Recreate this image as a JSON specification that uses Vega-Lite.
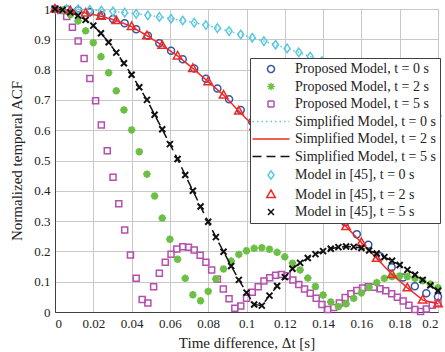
{
"$schema": "https://vega.github.io/schema/vega-lite/v6.json",
"width": 383, "height": 303,
"autosize": {"type": "none"},
"padding": {"left": 55, "top": 9, "right": 7, "bottom": 40},
"background": "white",
"config": {
 "view": {"stroke": "#404040", "strokeWidth": 1},
 "axis": {"labelFont": "Liberation Serif", "labelFontSize": 13, "labelColor": "#222222", "titleFont": "Liberation Serif", "titleFontSize": 15, "titleFontWeight": "normal", "titleColor": "#222222", "gridColor": "#c8c8c8", "gridOpacity": 1, "domainColor": "#404040", "ticks": false, "labelPadding": 5},
 "legend": {"fillColor": "white", "strokeColor": "#404040", "padding": 4, "labelFont": "Liberation Serif", "labelFontSize": 14, "labelColor": "#222222", "symbolSize": 100, "symbolStrokeWidth": 1.5, "rowPadding": 3.5, "symbolOffset": 10, "labelOffset": 17, "symbolFillColor": "transparent"}
},
"datasets": {
 "pts": [
{"s":"P0","x":0,"y":1},{"s":"P0","x":0.0061,"y":0.999},{"s":"P0","x":0.0121,"y":0.996},{"s":"P0","x":0.0182,"y":0.99},{"s":"P0","x":0.0242,"y":0.979},{"s":"P0","x":0.0303,"y":0.967},{"s":"P0","x":0.0364,"y":0.953},{"s":"P0","x":0.0424,"y":0.933},{"s":"P0","x":0.0485,"y":0.912},{"s":"P0","x":0.0545,"y":0.887},{"s":"P0","x":0.0606,"y":0.862},{"s":"P0","x":0.0667,"y":0.834},{"s":"P0","x":0.0727,"y":0.804},{"s":"P0","x":0.0788,"y":0.77},{"s":"P0","x":0.0848,"y":0.738},{"s":"P0","x":0.0909,"y":0.702},{"s":"P0","x":0.097,"y":0.667},{"s":"P0","x":0.103,"y":0.628},{"s":"P0","x":0.1091,"y":0.586},{"s":"P0","x":0.1152,"y":0.545},{"s":"P0","x":0.1212,"y":0.503},{"s":"P0","x":0.1273,"y":0.462},{"s":"P0","x":0.1333,"y":0.42},{"s":"P0","x":0.1394,"y":0.379},{"s":"P0","x":0.1455,"y":0.337},{"s":"P0","x":0.1515,"y":0.296},{"s":"P0","x":0.1576,"y":0.257},{"s":"P0","x":0.1636,"y":0.222},{"s":"P0","x":0.1697,"y":0.184},{"s":"P0","x":0.1758,"y":0.148},{"s":"P0","x":0.1818,"y":0.114},{"s":"P0","x":0.1879,"y":0.085},{"s":"P0","x":0.1939,"y":0.062},{"s":"P0","x":0.2,"y":0.05},
{"s":"P2","x":0,"y":1},{"s":"P2","x":0.004,"y":0.996},{"s":"P2","x":0.008,"y":0.982},{"s":"P2","x":0.012,"y":0.96},{"s":"P2","x":0.016,"y":0.928},{"s":"P2","x":0.02,"y":0.889},{"s":"P2","x":0.024,"y":0.843},{"s":"P2","x":0.028,"y":0.79},{"s":"P2","x":0.032,"y":0.73},{"s":"P2","x":0.036,"y":0.667},{"s":"P2","x":0.04,"y":0.601},{"s":"P2","x":0.044,"y":0.529},{"s":"P2","x":0.048,"y":0.455},{"s":"P2","x":0.052,"y":0.383},{"s":"P2","x":0.056,"y":0.31},{"s":"P2","x":0.06,"y":0.24},{"s":"P2","x":0.064,"y":0.174},{"s":"P2","x":0.068,"y":0.111},{"s":"P2","x":0.072,"y":0.057},{"s":"P2","x":0.076,"y":0.037},{"s":"P2","x":0.08,"y":0.068},{"s":"P2","x":0.084,"y":0.109},{"s":"P2","x":0.088,"y":0.142},{"s":"P2","x":0.092,"y":0.168},{"s":"P2","x":0.096,"y":0.19},{"s":"P2","x":0.1,"y":0.202},{"s":"P2","x":0.104,"y":0.21},{"s":"P2","x":0.108,"y":0.212},{"s":"P2","x":0.112,"y":0.207},{"s":"P2","x":0.116,"y":0.197},{"s":"P2","x":0.12,"y":0.182},{"s":"P2","x":0.124,"y":0.161},{"s":"P2","x":0.128,"y":0.139},{"s":"P2","x":0.132,"y":0.112},{"s":"P2","x":0.136,"y":0.084},{"s":"P2","x":0.14,"y":0.056},{"s":"P2","x":0.144,"y":0.033},{"s":"P2","x":0.148,"y":0.018},{"s":"P2","x":0.152,"y":0.027},{"s":"P2","x":0.156,"y":0.045},{"s":"P2","x":0.16,"y":0.063},{"s":"P2","x":0.164,"y":0.081},{"s":"P2","x":0.168,"y":0.097},{"s":"P2","x":0.172,"y":0.111},{"s":"P2","x":0.176,"y":0.117},{"s":"P2","x":0.18,"y":0.119},{"s":"P2","x":0.184,"y":0.117},{"s":"P2","x":0.188,"y":0.111},{"s":"P2","x":0.192,"y":0.103},{"s":"P2","x":0.196,"y":0.092},{"s":"P2","x":0.2,"y":0.08},
{"s":"P5","x":0,"y":1},{"s":"P5","x":0.003,"y":0.995},{"s":"P5","x":0.0061,"y":0.975},{"s":"P5","x":0.0091,"y":0.94},{"s":"P5","x":0.0121,"y":0.894},{"s":"P5","x":0.0152,"y":0.837},{"s":"P5","x":0.0182,"y":0.771},{"s":"P5","x":0.0212,"y":0.697},{"s":"P5","x":0.0242,"y":0.617},{"s":"P5","x":0.0273,"y":0.532},{"s":"P5","x":0.0303,"y":0.445},{"s":"P5","x":0.0333,"y":0.357},{"s":"P5","x":0.0364,"y":0.271},{"s":"P5","x":0.0394,"y":0.188},{"s":"P5","x":0.0424,"y":0.111},{"s":"P5","x":0.0455,"y":0.041},{"s":"P5","x":0.0485,"y":0.03},{"s":"P5","x":0.0515,"y":0.083},{"s":"P5","x":0.0545,"y":0.128},{"s":"P5","x":0.0576,"y":0.164},{"s":"P5","x":0.0606,"y":0.191},{"s":"P5","x":0.0636,"y":0.208},{"s":"P5","x":0.0667,"y":0.215},{"s":"P5","x":0.0697,"y":0.214},{"s":"P5","x":0.0727,"y":0.205},{"s":"P5","x":0.0758,"y":0.187},{"s":"P5","x":0.0788,"y":0.164},{"s":"P5","x":0.0818,"y":0.139},{"s":"P5","x":0.0848,"y":0.108},{"s":"P5","x":0.0879,"y":0.076},{"s":"P5","x":0.0909,"y":0.044},{"s":"P5","x":0.0939,"y":0.012},{"s":"P5","x":0.097,"y":0.02},{"s":"P5","x":0.1,"y":0.045},{"s":"P5","x":0.103,"y":0.065},{"s":"P5","x":0.1061,"y":0.083},{"s":"P5","x":0.1091,"y":0.102},{"s":"P5","x":0.1121,"y":0.113},{"s":"P5","x":0.1152,"y":0.121},{"s":"P5","x":0.1182,"y":0.124},{"s":"P5","x":0.1212,"y":0.12},{"s":"P5","x":0.1242,"y":0.106},{"s":"P5","x":0.1273,"y":0.091},{"s":"P5","x":0.1303,"y":0.076},{"s":"P5","x":0.1333,"y":0.062},{"s":"P5","x":0.1364,"y":0.045},{"s":"P5","x":0.1394,"y":0.025},{"s":"P5","x":0.1424,"y":0.008},{"s":"P5","x":0.1455,"y":0.015},{"s":"P5","x":0.1485,"y":0.03},{"s":"P5","x":0.1515,"y":0.048},{"s":"P5","x":0.1545,"y":0.06},{"s":"P5","x":0.1576,"y":0.071},{"s":"P5","x":0.1606,"y":0.079},{"s":"P5","x":0.1636,"y":0.083},{"s":"P5","x":0.1667,"y":0.082},{"s":"P5","x":0.1697,"y":0.077},{"s":"P5","x":0.1727,"y":0.07},{"s":"P5","x":0.1758,"y":0.06},{"s":"P5","x":0.1788,"y":0.049},{"s":"P5","x":0.1818,"y":0.036},{"s":"P5","x":0.1848,"y":0.022},{"s":"P5","x":0.1879,"y":0.008},{"s":"P5","x":0.1909,"y":0.002},{"s":"P5","x":0.1939,"y":0.01},{"s":"P5","x":0.197,"y":0.022},{"s":"P5","x":0.2,"y":0.03},
{"s":"M0","x":0,"y":1},{"s":"M0","x":0.0061,"y":1},{"s":"M0","x":0.0121,"y":0.999},{"s":"M0","x":0.0182,"y":0.997},{"s":"M0","x":0.0242,"y":0.995},{"s":"M0","x":0.0303,"y":0.992},{"s":"M0","x":0.0364,"y":0.988},{"s":"M0","x":0.0424,"y":0.984},{"s":"M0","x":0.0485,"y":0.979},{"s":"M0","x":0.0545,"y":0.974},{"s":"M0","x":0.0606,"y":0.968},{"s":"M0","x":0.0667,"y":0.962},{"s":"M0","x":0.0727,"y":0.955},{"s":"M0","x":0.0788,"y":0.947},{"s":"M0","x":0.0848,"y":0.937},{"s":"M0","x":0.0909,"y":0.927},{"s":"M0","x":0.097,"y":0.916},{"s":"M0","x":0.103,"y":0.905},{"s":"M0","x":0.1091,"y":0.894},{"s":"M0","x":0.1152,"y":0.882},{"s":"M0","x":0.1212,"y":0.87},{"s":"M0","x":0.1273,"y":0.857},{"s":"M0","x":0.1333,"y":0.843},{"s":"M0","x":0.1394,"y":0.828},{"s":"M0","x":0.1455,"y":0.813},{"s":"M0","x":0.1515,"y":0.797},{"s":"M0","x":0.1576,"y":0.78},{"s":"M0","x":0.1636,"y":0.762},{"s":"M0","x":0.1697,"y":0.744},{"s":"M0","x":0.1758,"y":0.725},{"s":"M0","x":0.1818,"y":0.706},{"s":"M0","x":0.1879,"y":0.687},{"s":"M0","x":0.1939,"y":0.667},{"s":"M0","x":0.2,"y":0.648},
{"s":"M2","x":0,"y":1},{"s":"M2","x":0.008,"y":0.995},{"s":"M2","x":0.016,"y":0.987},{"s":"M2","x":0.024,"y":0.976},{"s":"M2","x":0.032,"y":0.962},{"s":"M2","x":0.04,"y":0.942},{"s":"M2","x":0.048,"y":0.912},{"s":"M2","x":0.056,"y":0.88},{"s":"M2","x":0.064,"y":0.845},{"s":"M2","x":0.072,"y":0.804},{"s":"M2","x":0.08,"y":0.76},{"s":"M2","x":0.088,"y":0.716},{"s":"M2","x":0.096,"y":0.663},{"s":"M2","x":0.104,"y":0.612},{"s":"M2","x":0.112,"y":0.557},{"s":"M2","x":0.12,"y":0.502},{"s":"M2","x":0.128,"y":0.446},{"s":"M2","x":0.136,"y":0.39},{"s":"M2","x":0.144,"y":0.335},{"s":"M2","x":0.152,"y":0.282},{"s":"M2","x":0.16,"y":0.229},{"s":"M2","x":0.168,"y":0.177},{"s":"M2","x":0.176,"y":0.124},{"s":"M2","x":0.184,"y":0.08},{"s":"M2","x":0.192,"y":0.04},{"s":"M2","x":0.2,"y":0.027},
{"s":"M5","x":0,"y":1},{"s":"M5","x":0.004,"y":0.997},{"s":"M5","x":0.008,"y":0.989},{"s":"M5","x":0.012,"y":0.978},{"s":"M5","x":0.016,"y":0.964},{"s":"M5","x":0.02,"y":0.945},{"s":"M5","x":0.024,"y":0.92},{"s":"M5","x":0.028,"y":0.89},{"s":"M5","x":0.032,"y":0.856},{"s":"M5","x":0.036,"y":0.821},{"s":"M5","x":0.04,"y":0.783},{"s":"M5","x":0.044,"y":0.742},{"s":"M5","x":0.048,"y":0.7},{"s":"M5","x":0.052,"y":0.651},{"s":"M5","x":0.056,"y":0.603},{"s":"M5","x":0.06,"y":0.554},{"s":"M5","x":0.064,"y":0.505},{"s":"M5","x":0.068,"y":0.452},{"s":"M5","x":0.072,"y":0.4},{"s":"M5","x":0.076,"y":0.348},{"s":"M5","x":0.08,"y":0.298},{"s":"M5","x":0.084,"y":0.247},{"s":"M5","x":0.088,"y":0.199},{"s":"M5","x":0.092,"y":0.152},{"s":"M5","x":0.096,"y":0.106},{"s":"M5","x":0.1,"y":0.064},{"s":"M5","x":0.104,"y":0.025},{"s":"M5","x":0.108,"y":0.021},{"s":"M5","x":0.112,"y":0.054},{"s":"M5","x":0.116,"y":0.086},{"s":"M5","x":0.12,"y":0.115},{"s":"M5","x":0.124,"y":0.143},{"s":"M5","x":0.128,"y":0.162},{"s":"M5","x":0.132,"y":0.178},{"s":"M5","x":0.136,"y":0.191},{"s":"M5","x":0.14,"y":0.201},{"s":"M5","x":0.144,"y":0.209},{"s":"M5","x":0.148,"y":0.214},{"s":"M5","x":0.152,"y":0.216},{"s":"M5","x":0.156,"y":0.215},{"s":"M5","x":0.16,"y":0.211},{"s":"M5","x":0.164,"y":0.203},{"s":"M5","x":0.168,"y":0.193},{"s":"M5","x":0.172,"y":0.181},{"s":"M5","x":0.176,"y":0.169},{"s":"M5","x":0.18,"y":0.155},{"s":"M5","x":0.184,"y":0.139},{"s":"M5","x":0.188,"y":0.123},{"s":"M5","x":0.192,"y":0.106},{"s":"M5","x":0.196,"y":0.088},{"s":"M5","x":0.2,"y":0.07}
 ],
 "lns": [
{"s":"S0","x":0,"y":1},{"s":"S0","x":0.0061,"y":1},{"s":"S0","x":0.0121,"y":0.999},{"s":"S0","x":0.0182,"y":0.997},{"s":"S0","x":0.0242,"y":0.995},{"s":"S0","x":0.0303,"y":0.992},{"s":"S0","x":0.0364,"y":0.988},{"s":"S0","x":0.0424,"y":0.984},{"s":"S0","x":0.0485,"y":0.979},{"s":"S0","x":0.0545,"y":0.974},{"s":"S0","x":0.0606,"y":0.968},{"s":"S0","x":0.0667,"y":0.962},{"s":"S0","x":0.0727,"y":0.955},{"s":"S0","x":0.0788,"y":0.947},{"s":"S0","x":0.0848,"y":0.937},{"s":"S0","x":0.0909,"y":0.927},{"s":"S0","x":0.097,"y":0.916},{"s":"S0","x":0.103,"y":0.905},{"s":"S0","x":0.1091,"y":0.894},{"s":"S0","x":0.1152,"y":0.882},{"s":"S0","x":0.1212,"y":0.87},{"s":"S0","x":0.1273,"y":0.857},{"s":"S0","x":0.1333,"y":0.843},{"s":"S0","x":0.1394,"y":0.828},{"s":"S0","x":0.1455,"y":0.813},{"s":"S0","x":0.1515,"y":0.797},{"s":"S0","x":0.1576,"y":0.78},{"s":"S0","x":0.1636,"y":0.762},{"s":"S0","x":0.1697,"y":0.744},{"s":"S0","x":0.1758,"y":0.725},{"s":"S0","x":0.1818,"y":0.706},{"s":"S0","x":0.1879,"y":0.687},{"s":"S0","x":0.1939,"y":0.667},{"s":"S0","x":0.2,"y":0.648},
{"s":"S2","x":0,"y":1},{"s":"S2","x":0.008,"y":0.995},{"s":"S2","x":0.016,"y":0.987},{"s":"S2","x":0.024,"y":0.976},{"s":"S2","x":0.032,"y":0.962},{"s":"S2","x":0.04,"y":0.942},{"s":"S2","x":0.048,"y":0.912},{"s":"S2","x":0.056,"y":0.88},{"s":"S2","x":0.064,"y":0.845},{"s":"S2","x":0.072,"y":0.804},{"s":"S2","x":0.08,"y":0.76},{"s":"S2","x":0.088,"y":0.716},{"s":"S2","x":0.096,"y":0.663},{"s":"S2","x":0.104,"y":0.612},{"s":"S2","x":0.112,"y":0.557},{"s":"S2","x":0.12,"y":0.502},{"s":"S2","x":0.128,"y":0.446},{"s":"S2","x":0.136,"y":0.39},{"s":"S2","x":0.144,"y":0.335},{"s":"S2","x":0.152,"y":0.282},{"s":"S2","x":0.16,"y":0.229},{"s":"S2","x":0.168,"y":0.177},{"s":"S2","x":0.176,"y":0.124},{"s":"S2","x":0.184,"y":0.08},{"s":"S2","x":0.192,"y":0.04},{"s":"S2","x":0.2,"y":0.027},
{"s":"S5","x":0,"y":1},{"s":"S5","x":0.004,"y":0.997},{"s":"S5","x":0.008,"y":0.989},{"s":"S5","x":0.012,"y":0.978},{"s":"S5","x":0.016,"y":0.964},{"s":"S5","x":0.02,"y":0.945},{"s":"S5","x":0.024,"y":0.92},{"s":"S5","x":0.028,"y":0.89},{"s":"S5","x":0.032,"y":0.856},{"s":"S5","x":0.036,"y":0.821},{"s":"S5","x":0.04,"y":0.783},{"s":"S5","x":0.044,"y":0.742},{"s":"S5","x":0.048,"y":0.7},{"s":"S5","x":0.052,"y":0.651},{"s":"S5","x":0.056,"y":0.603},{"s":"S5","x":0.06,"y":0.554},{"s":"S5","x":0.064,"y":0.505},{"s":"S5","x":0.068,"y":0.452},{"s":"S5","x":0.072,"y":0.4},{"s":"S5","x":0.076,"y":0.348},{"s":"S5","x":0.08,"y":0.298},{"s":"S5","x":0.084,"y":0.247},{"s":"S5","x":0.088,"y":0.199},{"s":"S5","x":0.092,"y":0.152},{"s":"S5","x":0.096,"y":0.106},{"s":"S5","x":0.1,"y":0.064},{"s":"S5","x":0.104,"y":0.025},{"s":"S5","x":0.108,"y":0.021},{"s":"S5","x":0.112,"y":0.054},{"s":"S5","x":0.116,"y":0.086},{"s":"S5","x":0.12,"y":0.115},{"s":"S5","x":0.124,"y":0.143},{"s":"S5","x":0.128,"y":0.162},{"s":"S5","x":0.132,"y":0.178},{"s":"S5","x":0.136,"y":0.191},{"s":"S5","x":0.14,"y":0.201},{"s":"S5","x":0.144,"y":0.209},{"s":"S5","x":0.148,"y":0.214},{"s":"S5","x":0.152,"y":0.216},{"s":"S5","x":0.156,"y":0.215},{"s":"S5","x":0.16,"y":0.211},{"s":"S5","x":0.164,"y":0.203},{"s":"S5","x":0.168,"y":0.193},{"s":"S5","x":0.172,"y":0.181},{"s":"S5","x":0.176,"y":0.169},{"s":"S5","x":0.18,"y":0.155},{"s":"S5","x":0.184,"y":0.139},{"s":"S5","x":0.188,"y":0.123},{"s":"S5","x":0.192,"y":0.106},{"s":"S5","x":0.196,"y":0.088},{"s":"S5","x":0.2,"y":0.07}
 ]
},
"encoding": {
 "x": {"field": "x", "type": "quantitative", "scale": {"domain": [0, 0.2], "nice": false, "zero": false},
   "axis": {"values": [0,0.02,0.04,0.06,0.08,0.1,0.12,0.14,0.16,0.18,0.2], "format": "~g", "title": "Time difference, Δt [s]", "titlePadding": 5}},
 "y": {"field": "y", "type": "quantitative", "scale": {"domain": [0, 1], "nice": false},
   "axis": {"values": [0,0.1,0.2,0.3,0.4,0.5,0.6,0.7,0.8,0.9,1], "format": "~g", "title": "Normalized temporal ACF", "titlePadding": 9}},
 "color": {"field": "s", "type": "nominal",
   "scale": {"domain": ["P0","P2","P5","S0","S2","S5","M0","M2","M5"], "range": ["#3653a3","#6cbf45","#b44fae","#5cc8de","#ee2a24","#111111","#5cc8de","#ee2a24","#111111"]},
   "legend": {"title": null, "orient": "none", "legendX": 195, "legendY": 49, "labelExpr": "datum.label=='P0'?'Proposed Model, t = 0 s':datum.label=='P2'?'Proposed Model, t = 2 s':datum.label=='P5'?'Proposed Model, t = 5 s':datum.label=='S0'?'Simplified Model, t = 0 s':datum.label=='S2'?'Simplified Model, t = 2 s':datum.label=='S5'?'Simplified Model, t = 5 s':datum.label=='M0'?'Model in [45], t = 0 s':datum.label=='M2'?'Model in [45], t = 2 s':'Model in [45], t = 5 s'"}}
},
"layer": [
 {"data": {"name": "pts"}, "transform": [{"filter": {"field": "s", "oneOf": ["P0","P5"]}}],
  "mark": {"type": "point", "filled": false, "size": 100, "strokeWidth": 1.5, "opacity": 1},
  "encoding": {"shape": {"field": "s", "type": "nominal", "scale": {"domain": ["P0","P2","P5","S0","S2","S5","M0","M2","M5"], "range": ["M0.7,0A0.7,0.7,0,1,1,-0.7,0A0.7,0.7,0,1,1,0.7,0Z","M0,-0.75L0,0.75M-0.75,0L0.75,0M-0.53,-0.53L0.53,0.53M-0.53,0.53L0.53,-0.53","M-0.6,-0.6L0.6,-0.6L0.6,0.6L-0.6,0.6Z","M-3.7,0L3.7,0","M-3.7,0L3.7,0","M-3.7,0L3.7,0","M0,-0.85L0.6,0L0,0.85L-0.6,0Z","M0,-0.9L0.85,0.6L-0.85,0.6Z","M-0.6,-0.6L0.6,0.6M-0.6,0.6L0.6,-0.6"]}, "legend": {"title": null, "orient": "none", "legendX": 195, "legendY": 49}}}},
 {"data": {"name": "pts"}, "transform": [{"filter": {"field": "s", "oneOf": ["P2"]}}],
  "mark": {"type": "point", "filled": false, "size": 100, "strokeWidth": 2.2, "opacity": 1},
  "encoding": {"shape": {"field": "s", "type": "nominal", "scale": {"domain": ["P0","P2","P5","S0","S2","S5","M0","M2","M5"], "range": ["M0.7,0A0.7,0.7,0,1,1,-0.7,0A0.7,0.7,0,1,1,0.7,0Z","M0,-0.75L0,0.75M-0.75,0L0.75,0M-0.53,-0.53L0.53,0.53M-0.53,0.53L0.53,-0.53","M-0.6,-0.6L0.6,-0.6L0.6,0.6L-0.6,0.6Z","M-3.7,0L3.7,0","M-3.7,0L3.7,0","M-3.7,0L3.7,0","M0,-0.85L0.6,0L0,0.85L-0.6,0Z","M0,-0.9L0.85,0.6L-0.85,0.6Z","M-0.6,-0.6L0.6,0.6M-0.6,0.6L0.6,-0.6"]}, "legend": {"title": null, "orient": "none", "legendX": 195, "legendY": 49}}}},
 {"data": {"name": "lns"},
  "mark": {"type": "line", "strokeWidth": 1.5},
  "encoding": {"strokeDash": {"field": "s", "type": "nominal", "scale": {"domain": ["P0","P2","P5","S0","S2","S5","M0","M2","M5"], "range": [[1,0],[1,0],[1,0],[1.5,3],[1,0],[9,5],[1,0],[1,0],[1,0]]}, "legend": {"title": null, "orient": "none", "legendX": 195, "legendY": 49}}}},
 {"data": {"name": "pts"}, "transform": [{"filter": {"field": "s", "oneOf": ["M0","M2"]}}],
  "mark": {"type": "point", "filled": false, "size": 100, "strokeWidth": 1.5, "opacity": 1},
  "encoding": {"shape": {"field": "s", "type": "nominal", "scale": {"domain": ["P0","P2","P5","S0","S2","S5","M0","M2","M5"], "range": ["M0.7,0A0.7,0.7,0,1,1,-0.7,0A0.7,0.7,0,1,1,0.7,0Z","M0,-0.75L0,0.75M-0.75,0L0.75,0M-0.53,-0.53L0.53,0.53M-0.53,0.53L0.53,-0.53","M-0.6,-0.6L0.6,-0.6L0.6,0.6L-0.6,0.6Z","M-3.7,0L3.7,0","M-3.7,0L3.7,0","M-3.7,0L3.7,0","M0,-0.85L0.6,0L0,0.85L-0.6,0Z","M0,-0.9L0.85,0.6L-0.85,0.6Z","M-0.6,-0.6L0.6,0.6M-0.6,0.6L0.6,-0.6"]}, "legend": {"title": null, "orient": "none", "legendX": 195, "legendY": 49}}}},
 {"data": {"name": "pts"}, "transform": [{"filter": {"field": "s", "oneOf": ["M5"]}}],
  "mark": {"type": "point", "filled": false, "size": 100, "strokeWidth": 2, "opacity": 1},
  "encoding": {"shape": {"field": "s", "type": "nominal", "scale": {"domain": ["P0","P2","P5","S0","S2","S5","M0","M2","M5"], "range": ["M0.7,0A0.7,0.7,0,1,1,-0.7,0A0.7,0.7,0,1,1,0.7,0Z","M0,-0.75L0,0.75M-0.75,0L0.75,0M-0.53,-0.53L0.53,0.53M-0.53,0.53L0.53,-0.53","M-0.6,-0.6L0.6,-0.6L0.6,0.6L-0.6,0.6Z","M-3.7,0L3.7,0","M-3.7,0L3.7,0","M-3.7,0L3.7,0","M0,-0.85L0.6,0L0,0.85L-0.6,0Z","M0,-0.9L0.85,0.6L-0.85,0.6Z","M-0.6,-0.6L0.6,0.6M-0.6,0.6L0.6,-0.6"]}, "legend": {"title": null, "orient": "none", "legendX": 195, "legendY": 49}}}}
]
}
